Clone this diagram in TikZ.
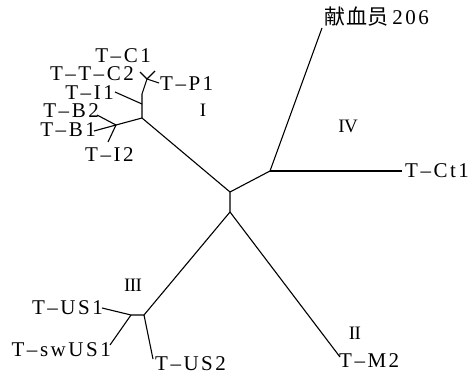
\documentclass[tikz,border=0pt]{standalone}
\usepackage{fontspec}
\setmainfont{Liberation Serif}[LetterSpace=12]
\newfontfamily\cjkfont{Noto Sans CJK SC}[LetterSpace=4]
\newfontfamily\numfont{Liberation Serif}[LetterSpace=-3]
\tikzset{
  branch/.style={line width=1.1pt, black},
  taxon/.style={inner sep=0pt, font=\fontsize{21}{23}\selectfont},
  clade/.style={inner sep=0pt, font=\numfont\fontsize{19}{21}\selectfont}
}
\begin{document}
\begin{tikzpicture}[x=1pt,y=-1pt]
\useasboundingbox (0,0) rectangle (475,380);

% internal junctions
\coordinate (c0) at (230,192);
\coordinate (c1) at (230,212);
\coordinate (g4) at (270,171);
\coordinate (g1) at (142,118);
\coordinate (g1a) at (142,104);
\coordinate (g1b) at (142,94);
\coordinate (g1c) at (147,79);
\coordinate (g1d) at (116,125);
\coordinate (g3) at (144,315);
\coordinate (g3b) at (131,315);

% leaf ends
\coordinate (lTop) at (322,28);
\coordinate (lCt1) at (402,171);
\coordinate (lC1) at (155,71);
\coordinate (lC2) at (140,72);
\coordinate (lP1) at (159,83);
\coordinate (lI1) at (115,92);
\coordinate (lB2) at (97,115);
\coordinate (lB1) at (94,131);
\coordinate (lI2) at (108,142);
\coordinate (lUS1) at (102,308);
\coordinate (lsw) at (110,345);
\coordinate (lUS2) at (153,359);
\coordinate (lM2) at (340,357);

% tree
\draw[branch] (g1) -- (c0) -- (c1);
\draw[branch] (c0) -- (g4) -- (lTop);
\draw[branch] (g4) -- (lCt1);
\draw[branch] (g1) -- (g1a) -- (g1b) -- (g1c);
\draw[branch] (g1c) -- (lC1);
\draw[branch] (g1c) -- (lC2);
\draw[branch] (g1c) -- (lP1);
\draw[branch] (g1a) -- (lI1);
\draw[branch] (g1) -- (g1d);
\draw[branch] (g1d) -- (lB2);
\draw[branch] (g1d) -- (lB1);
\draw[branch] (g1d) -- (lI2);
\draw[branch] (c1) -- (g3) -- (g3b);
\draw[branch] (g3b) -- (lUS1);
\draw[branch] (g3b) -- (lsw);
\draw[branch] (g3) -- (lUS2);
\draw[branch] (c1) -- (lM2);

% taxon labels
\node[taxon, anchor=west] (tTop) at (324,17) {{\cjkfont 献血员}\,206};
\node[taxon, anchor=west] (tCt1) at (405,171) {T–Ct1};
\node[taxon, anchor=east] (tC1) at (151,56) {T–C1};
\node[taxon, anchor=east] (tC2) at (134,74) {T–T–C2};
\node[taxon, anchor=west] (tP1) at (160,84) {T–P1};
\node[taxon, anchor=east] (tI1) at (114,93) {T–I1};
\node[taxon, anchor=east] (tB2) at (99,111) {T–B2};
\node[taxon, anchor=east] (tB1) at (96,130) {T–B1};
\node[taxon, anchor=west] (tI2) at (85,155) {T–I2};
\node[taxon, anchor=east] (tUS1) at (103,308) {T–US1};
\node[taxon, anchor=east] (tsw) at (111,350) {T–swUS1};
\node[taxon, anchor=west] (tUS2) at (155,364) {T–US2};
\node[taxon, anchor=west] (tM2) at (339,361) {T–M2};

% clade numerals
\node[clade] (kI) at (203,110) {I};
\node[clade] (kIV) at (348,126) {IV};
\node[clade] (kIII) at (133,285) {III};
\node[clade] (kII) at (355,333) {II};
\end{tikzpicture}
\end{document}
